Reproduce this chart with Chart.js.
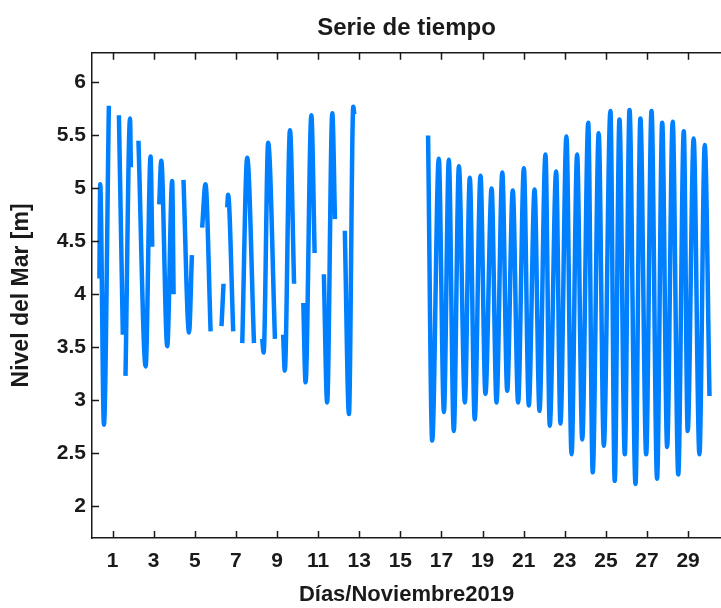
<!DOCTYPE html>
<html lang="es">
<head>
  <meta charset="UTF-8" />
  <title>Serie de tiempo</title>
  <style>
    html, body { margin: 0; padding: 0; background: #fff; overflow: hidden; }
    #serie { display: block; }
  </style>
  <script src="https://cdn.jsdelivr.net/npm/chart.js"></script>
</head>
<body>
  <canvas id="serie" width="721" height="608"></canvas>

  <script>
    // dias de noviembre 2019 y nivel del mar [m]; null = hueco en el registro
    const dias = [
      0.36, 0.40, 0.58, 0.82, 0.90,
      1.31, 1.50, 1.56,
      1.63, 1.85, 1.89, 2.00,
      2.26, 2.61, 2.85, 2.93, 3.10,
      3.27, 3.37, 3.66, 3.90, 3.97, 4.20,
      4.45, 4.72, 4.86, 5.10,
      5.36, 5.52, 5.77, 6.00,
      6.30, 6.40, 6.50,
      6.58, 6.62, 6.87, 7.10,
      7.31, 7.55, 7.88, 8.10,
      8.28, 8.35, 8.57, 8.90, 9.10,
      9.30, 9.38, 9.63, 9.83, 10.00,
      10.28, 10.39, 10.67, 10.83, 11.00,
      11.28, 11.44, 11.69, 11.82, 12.00,
      12.30, 12.50, 12.71, 12.76, 14.50,
      16.35, 16.55, 16.87, 17.12, 17.36, 17.60, 17.85, 18.14, 18.38, 18.62,
      18.90, 19.14, 19.44, 19.68, 19.96, 20.20, 20.47, 20.73, 21.01, 21.25,
      21.53, 21.77, 22.06, 22.27, 22.58, 22.79, 23.08, 23.33, 23.60, 23.85,
      24.14, 24.36, 24.65, 24.90, 25.22, 25.43, 25.66, 25.92, 26.15, 26.44,
      26.68, 26.96, 27.22, 27.49, 27.74, 27.98, 28.25, 28.52, 28.79, 28.98,
      29.27, 29.55, 29.81, 30.04
    ];
    const nivel = [
      4.15, 5.04, 2.77, 5.78, null,
      5.69, 3.62, null,
      3.23, 5.66, 5.20, null,
      5.45, 3.32, 5.30, 4.45, null,
      4.85, 5.26, 3.51, 5.07, 4.00, null,
      5.08, 3.64, 4.37, null,
      4.63, 5.04, 3.65, null,
      3.70, 4.10, null,
      4.82, 4.94, 3.65, null,
      3.54, 5.29, 3.54, null,
      3.58, 3.45, 5.43, 3.58, null,
      3.62, 3.28, 5.55, 4.10, null,
      3.92, 3.17, 5.69, 4.39, null,
      4.19, 2.98, 5.71, 4.71, null,
      4.60, 2.87, 5.77, 5.70, null,
      5.50, 2.62, 5.28, 2.89, 5.27, 2.71, 5.21, 2.98, 5.10, 2.82,
      5.12, 3.06, 5.00, 2.98, 5.15, 3.09, 4.98, 2.98, 5.19, 2.95,
      4.99, 2.90, 5.32, 2.76, 5.16, 2.78, 5.49, 2.49, 5.32, 2.63,
      5.62, 2.32, 5.52, 2.57, 5.73, 2.24, 5.65, 2.49, 5.74, 2.21,
      5.66, 2.49, 5.73, 2.26, 5.62, 2.56, 5.63, 2.30, 5.54, 2.71,
      5.47, 2.49, 5.41, 3.04
    ];
    const xTicks = [1, 3, 5, 7, 9, 11, 13, 15, 17, 19, 21, 23, 25, 27, 29];
    const yTicks = [2, 2.5, 3, 3.5, 4, 4.5, 5, 5.5, 6];

    const fuente = 'Liberation Sans, Arial, Helvetica, sans-serif';
    const tinta = '#1a1a1a';

    // marco superior y marcas hacia adentro, estilo matlab
    const marco = {
      id: 'marco',
      afterDraw(chart) {
        const { ctx, chartArea: a, scales } = chart;
        const largo = 7;
        ctx.save();
        ctx.strokeStyle = tinta;
        ctx.lineWidth = 1.5;
        ctx.beginPath();
        ctx.moveTo(a.left, a.top);
        ctx.lineTo(a.right, a.top);
        xTicks.forEach(v => {
          const px = Math.round(scales.x.getPixelForValue(v)) + 0.5;
          ctx.moveTo(px, a.bottom);
          ctx.lineTo(px, a.bottom - largo);
          ctx.moveTo(px, a.top);
          ctx.lineTo(px, a.top + largo);
        });
        yTicks.forEach(v => {
          const py = Math.round(scales.y.getPixelForValue(v)) + 0.5;
          ctx.moveTo(a.left, py);
          ctx.lineTo(a.left + largo, py);
        });
        ctx.stroke();
        ctx.restore();
      }
    };

    const puntos = dias.map((d, i) => ({ x: d, y: nivel[i] }));

    new Chart(document.getElementById('serie'), {
      type: 'line',
      data: {
        datasets: [{
          data: puntos,
          borderColor: '#0080ff',
          borderWidth: 4.5,
          borderJoinStyle: 'bevel',
          pointRadius: 0,
          cubicInterpolationMode: 'monotone',
          spanGaps: false,
        }],
      },
      options: {
        responsive: false,
        animation: false,
        maintainAspectRatio: false,
        layout: { padding: 0 },
        plugins: {
          legend: { display: false },
          tooltip: { enabled: false },
          title: {
            display: true,
            text: 'Serie de tiempo',
            fullSize: false,
            color: tinta,
            font: { family: fuente, size: 24, weight: 'bold' },
            padding: { top: 14, bottom: 10 },
          },
        },
        scales: {
          x: {
            type: 'linear',
            min: 0,
            max: 30.6,
            afterBuildTicks: s => { s.ticks = xTicks.map(v => ({ value: v })); },
            afterFit: s => { s.height = 70; },
            grid: { display: false, drawTicks: false },
            border: { display: true, color: tinta, width: 1.5 },
            ticks: {
              color: tinta,
              padding: 11,
              maxRotation: 0,
              autoSkip: false,
              font: { family: fuente, size: 21, weight: 'bold' },
              callback: v => String(v),
            },
            title: {
              display: true,
              text: 'Días/Noviembre2019',
              color: tinta,
              padding: 0,
              font: { family: fuente, size: 22, weight: 'bold' },
            },
          },
          y: {
            min: 1.7,
            max: 6.28,
            afterBuildTicks: s => { s.ticks = yTicks.map(v => ({ value: v })); },
            afterFit: s => { s.width = 92; },
            grid: { display: false, drawTicks: false },
            border: { display: true, color: tinta, width: 1.5 },
            ticks: {
              color: tinta,
              padding: 6,
              autoSkip: false,
              font: { family: fuente, size: 21, weight: 'bold' },
              callback: v => String(v),
            },
            title: {
              display: true,
              text: 'Nivel del Mar [m]',
              color: tinta,
              padding: { top: 8, bottom: 0 },
              font: { family: fuente, size: 23, weight: 'bold' },
            },
          },
        },
      },
      plugins: [marco],
    });
  </script>
</body>
</html>
